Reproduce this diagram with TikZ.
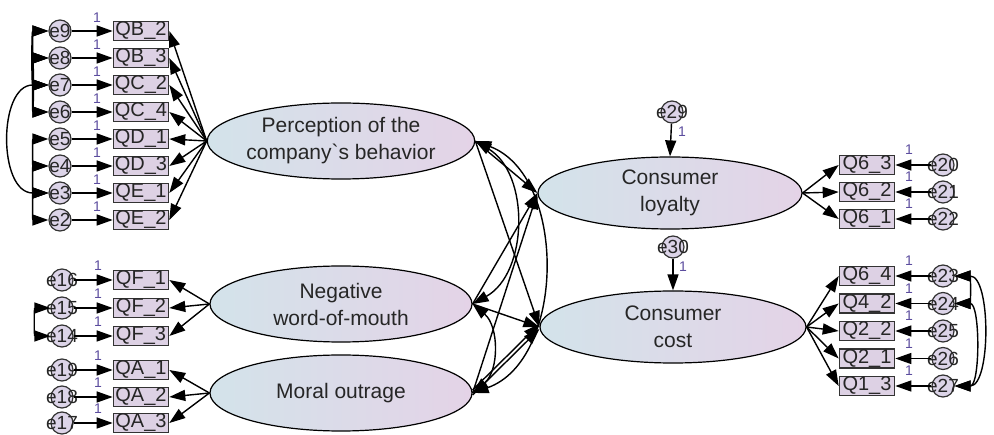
\documentclass[tikz,border=0pt]{standalone}
\usepackage{fontspec}
\setmainfont{Liberation Sans}
\usetikzlibrary{arrows.meta,shapes.geometric}
\definecolor{latL}{HTML}{D3E3EA}
\definecolor{latR}{HTML}{E4D3E7}
\definecolor{obsfill}{HTML}{DDD1E4}
\definecolor{errfill}{HTML}{DCD4E8}
\definecolor{onecol}{HTML}{5B4C9E}
\begin{document}
\begin{tikzpicture}[x=1pt,y=-1pt,
  >={Triangle[length=16pt,width=11pt]},
  latent/.style={ellipse, draw=black, line width=1.2pt, left color=latL, right color=latR,
    minimum height=76pt, inner sep=0pt, align=center,
    font=\fontsize{21}{27}\selectfont, text=black!85},
  obs/.style={rectangle, draw=black!80, line width=1.6pt, fill=obsfill, minimum width=55pt,
    minimum height=19pt, inner sep=0pt, font=\fontsize{20}{20}\selectfont, text=black!85},
  err/.style={circle, draw=black!80, line width=1.2pt, fill=errfill, minimum size=22pt,
    inner sep=0pt, font=\fontsize{19}{19}\selectfont, text=black!85},
  one/.style={font=\fontsize{14}{14}\selectfont, text=onecol, inner sep=0pt},
  arr/.style={->, line width=1.4pt},
  covar/.style={<->, line width=1.4pt}]
\useasboundingbox (0,0) rectangle (994,435);

% latent variables
\node[latent, minimum width=262pt] (perc) at (341,141) {Perception of the\\company\textasciigrave s behavior};
\node[latent, minimum width=262pt] (nwom) at (341,304) {Negative\\word-of-mouth};
\node[latent, minimum width=262pt] (moral) at (341,393) {Moral outrage};
\node[latent, minimum width=264pt, minimum height=72pt] (loy) at (670,193) {Consumer\\loyalty};
\node[latent, minimum width=266pt, minimum height=72pt] (cost) at (673,327) {Consumer\\cost};

% left group: perception
\foreach \e/\el/\q/\t/\y in {e9/e9/QB2/QB\_2/31, e8/e8/QB3/QB\_3/58, e7/e7/QC2/QC\_2/85,
  e6/e6/QC4/QC\_4/112, e5/e5/QD1/QD\_1/139, e4/e4/QD3/QD\_3/166, e3/e3/QE1/QE\_1/193,
  e2/e2/QE2/QE\_2/220}{
  \node[obs] (\q) at (141,\y) {\t};
  \node[err] (\e) at (60,\y) {\makebox[0pt]{\el}};
  \draw[arr] (\e) -- (\q);
  \node[one] at (97,\y-13) {1};
  \draw[arr] (perc.west) -- (\q.east);
}
% left group: negative WOM
\foreach \e/\el/\q/\t/\y in {e16/e16/QF1/QF\_1/280, e15/e15/QF2/QF\_2/308, e14/e14/QF3/QF\_3/336}{
  \node[obs] (\q) at (141,\y) {\t};
  \node[err] (\e) at (62,\y) {\makebox[0pt]{\el}};
  \draw[arr] (\e) -- (\q);
  \node[one] at (98,\y-14) {1};
  \draw[arr] (nwom.west) -- (\q.east);
}
% left group: moral outrage
\foreach \e/\el/\q/\t/\y in {e19/e19/QA1/QA\_1/370, e18/e18/QA2/QA\_2/397, e17/e17/QA3/QA\_3/423}{
  \node[obs] (\q) at (141,\y) {\t};
  \node[err] (\e) at (62,\y) {\makebox[0pt]{\el}};
  \draw[arr] (\e) -- (\q);
  \node[one] at (98,\y-14) {1};
  \draw[arr] (moral.west) -- (\q.east);
}
% right group: loyalty
\foreach \e/\el/\q/\t/\y in {e20/e20/Q63/Q6\_3/165, e21/e21/Q62/Q6\_2/192, e22/e22/Q61/Q6\_1/219}{
  \node[obs] (\q) at (867,\y) {\t};
  \node[err] (\e) at (943,\y) {\makebox[0pt]{\el}};
  \draw[arr] (\e) -- (\q);
  \node[one] at (909,\y-15) {1};
  \draw[arr] (loy.east) -- (\q.west);
}
% right group: cost
\foreach \e/\el/\q/\t/\y in {e23/e23/Q64/Q6\_4/276, e24/e24/Q42/Q4\_2/303.5, e25/e25/Q22/Q2\_2/331,
  e26/e26/Q21/Q2\_1/358.5, e27/e27/Q13/Q1\_3/386}{
  \node[obs] (\q) at (867,\y) {\t};
  \node[err] (\e) at (943,\y) {\makebox[0pt]{\el}};
  \draw[arr] (\e) -- (\q);
  \node[one] at (909,\y-15) {1};
  \draw[arr] (cost.east) -- (\q.west);
}

% disturbances
\node[err] (e29) at (672,112) {\makebox[0pt]{e29}};
\node[err] (e30) at (673,247) {\makebox[0pt]{e30}};
\draw[arr] (e29) -- (loy.north);
\draw[arr] (e30) -- (cost.north);
\node[one] at (682,132) {1};
\node[one] at (683,267) {1};

% structural paths
\draw[arr] (perc.east) -- (loy.west);
\draw[arr] (perc.east) -- (cost.west);
\draw[arr] (nwom.east) -- (loy.west);
\draw[arr] (moral.east) -- (loy.west);
\draw[arr] (nwom.east) -- (cost.west);
\draw[arr] ([yshift=-2pt]moral.east) -- ([yshift=-2pt]cost.west);
\draw[arr] ([yshift=3pt]moral.east) -- ([yshift=3pt]cost.west);

% covariances among latents
\draw[covar] (perc.east) to[bend left=60] (nwom.east);
\draw[covar] (perc.east) to[bend left=70] (moral.east);
\draw[covar] (nwom.east) to[bend left=50] (moral.east);

% covariances among errors (left)
\draw[covar] (e9.west) to[out=180,in=180,looseness=1.5] (e8.west);
\draw[covar] (e8.west) to[out=180,in=180,looseness=1.5] (e7.west);
\draw[covar] (e7.west) to[out=180,in=180,looseness=1.5] (e6.west);
\draw[covar] (e9.west) to[out=180,in=180,looseness=0.8] (e7.west);
\draw[covar] (e8.west) to[out=180,in=180,looseness=0.7] (e6.west);
\draw[covar] (e7.west) to[out=180,in=180,looseness=1.2] (e3.west);
\draw[covar] (e5.west) to[out=180,in=180,looseness=1.5] (e4.west);
\draw[covar] (e4.west) to[out=180,in=180,looseness=1.5] (e3.west);
\draw[covar] (e3.west) to[out=180,in=180,looseness=1.5] (e2.west);
\draw[covar] (e15.west) to[out=180,in=180,looseness=1.5] (e14.west);

% covariances among errors (right)
\draw[covar] (e23.east) to[out=0,in=0,looseness=1.5] (e24.east);
\draw[covar] (e23.east) to[out=0,in=0,looseness=0.85] (e27.east);
\draw[covar] (e24.east) to[out=0,in=0,looseness=0.8] (e27.east);
\end{tikzpicture}
\end{document}
